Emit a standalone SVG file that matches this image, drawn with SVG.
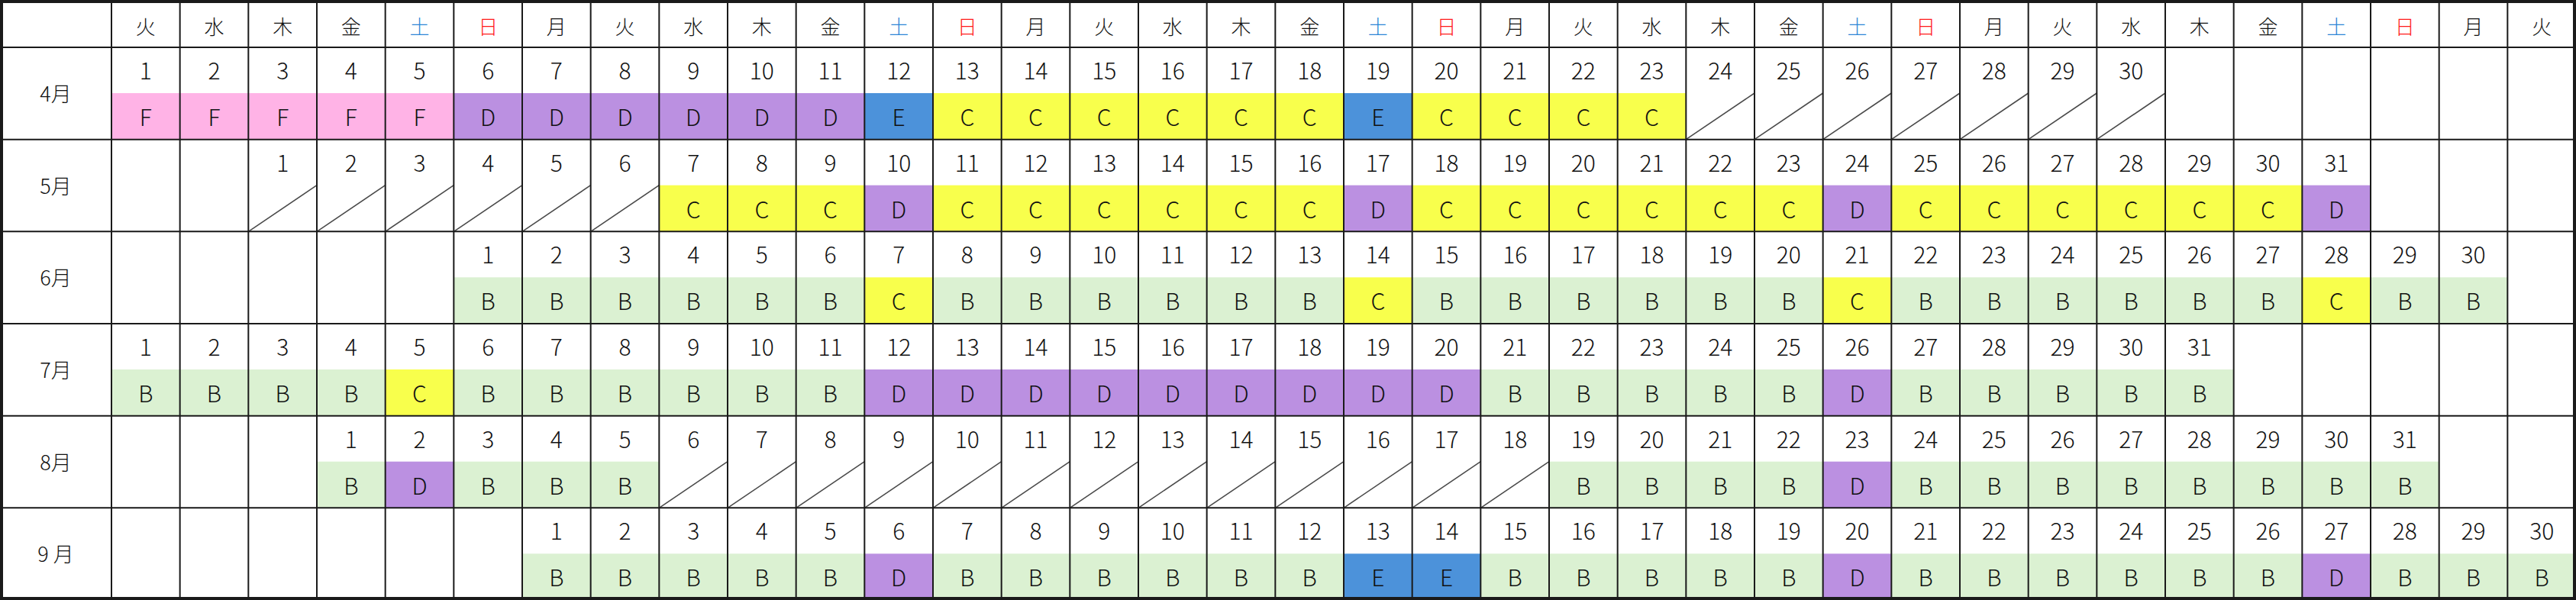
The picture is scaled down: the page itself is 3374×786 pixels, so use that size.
<svg xmlns="http://www.w3.org/2000/svg" width="3374" height="786" viewBox="0 0 3374 786">
<style>
.t{font-family:"Noto Sans CJK JP","DejaVu Sans",sans-serif;font-weight:300;text-anchor:middle;fill:#111}
.n{font-size:30px}.l{font-size:30px}.h{font-size:26px}.m{font-size:27px}
.sat{fill:#2C86D6}.sun{fill:#FF1A1A}
.grid{stroke:#1a1a1a;stroke-width:2;fill:none}
.sl{stroke:#4a4a4a;stroke-width:1.6;fill:none}
.F{fill:#FFB3E6}.D{fill:#BB90E1}.E{fill:#4C92DA}.C{fill:#F8FF4C}.B{fill:#DBF1D2}
</style>
<rect width="3374" height="786" fill="#fff"/>
<g id="header">
<text class="t h" y="45"><tspan x="190.8">火</tspan><tspan x="280.5">水</tspan><tspan x="370.2">木</tspan><tspan x="459.8">金</tspan><tspan x="549.5" class="sat">土</tspan><tspan x="639.2" class="sun">日</tspan><tspan x="728.8">月</tspan><tspan x="818.5">火</tspan><tspan x="908.2">水</tspan><tspan x="997.8">木</tspan><tspan x="1087.5">金</tspan><tspan x="1177.2" class="sat">土</tspan><tspan x="1266.8" class="sun">日</tspan><tspan x="1356.5">月</tspan><tspan x="1446.2">火</tspan><tspan x="1535.8">水</tspan><tspan x="1625.5">木</tspan><tspan x="1715.2">金</tspan><tspan x="1804.8" class="sat">土</tspan><tspan x="1894.5" class="sun">日</tspan><tspan x="1984.2">月</tspan><tspan x="2073.8">火</tspan><tspan x="2163.5">水</tspan><tspan x="2253.2">木</tspan><tspan x="2342.8">金</tspan><tspan x="2432.5" class="sat">土</tspan><tspan x="2522.2" class="sun">日</tspan><tspan x="2611.8">月</tspan><tspan x="2701.5">火</tspan><tspan x="2791.2">水</tspan><tspan x="2880.8">木</tspan><tspan x="2970.5">金</tspan><tspan x="3060.2" class="sat">土</tspan><tspan x="3149.8" class="sun">日</tspan><tspan x="3239.5">月</tspan><tspan x="3329.2">火</tspan></text>
</g>
<g id="apr">
<rect class="F" x="146" y="122" width="448.33" height="60.67"/>
<rect class="D" x="594.33" y="122" width="538" height="60.67"/>
<rect class="E" x="1132.33" y="122" width="89.67" height="60.67"/>
<rect class="C" x="1222" y="122" width="538" height="60.67"/>
<rect class="E" x="1760" y="122" width="89.67" height="60.67"/>
<rect class="C" x="1849.67" y="122" width="358.67" height="60.67"/>
<path class="sl" d="M2208.33 182.67L2298 122M2298 182.67L2387.67 122M2387.67 182.67L2477.33 122M2477.33 182.67L2567 122M2567 182.67L2656.67 122M2656.67 182.67L2746.33 122M2746.33 182.67L2836 122"/>
</g>
<g id="may">
<rect class="C" x="863.33" y="242.67" width="269" height="60.67"/>
<rect class="D" x="1132.33" y="242.67" width="89.67" height="60.67"/>
<rect class="C" x="1222" y="242.67" width="538" height="60.67"/>
<rect class="D" x="1760" y="242.67" width="89.67" height="60.67"/>
<rect class="C" x="1849.67" y="242.67" width="538" height="60.67"/>
<rect class="D" x="2387.67" y="242.67" width="89.67" height="60.67"/>
<rect class="C" x="2477.33" y="242.67" width="538" height="60.67"/>
<rect class="D" x="3015.33" y="242.67" width="89.67" height="60.67"/>
<path class="sl" d="M325.33 303.33L415 242.67M415 303.33L504.67 242.67M504.67 303.33L594.33 242.67M594.33 303.33L684 242.67M684 303.33L773.67 242.67M773.67 303.33L863.33 242.67"/>
</g>
<g id="jun">
<rect class="B" x="594.33" y="363.33" width="538" height="60.67"/>
<rect class="C" x="1132.33" y="363.33" width="89.67" height="60.67"/>
<rect class="B" x="1222" y="363.33" width="538" height="60.67"/>
<rect class="C" x="1760" y="363.33" width="89.67" height="60.67"/>
<rect class="B" x="1849.67" y="363.33" width="538" height="60.67"/>
<rect class="C" x="2387.67" y="363.33" width="89.67" height="60.67"/>
<rect class="B" x="2477.33" y="363.33" width="538" height="60.67"/>
<rect class="C" x="3015.33" y="363.33" width="89.67" height="60.67"/>
<rect class="B" x="3105" y="363.33" width="179.33" height="60.67"/>
</g>
<g id="jul">
<rect class="B" x="146" y="484" width="358.67" height="60.67"/>
<rect class="C" x="504.67" y="484" width="89.67" height="60.67"/>
<rect class="B" x="594.33" y="484" width="538" height="60.67"/>
<rect class="D" x="1132.33" y="484" width="807" height="60.67"/>
<rect class="B" x="1939.33" y="484" width="448.33" height="60.67"/>
<rect class="D" x="2387.67" y="484" width="89.67" height="60.67"/>
<rect class="B" x="2477.33" y="484" width="448.33" height="60.67"/>
</g>
<g id="aug">
<rect class="B" x="415" y="604.67" width="89.67" height="60.67"/>
<rect class="D" x="504.67" y="604.67" width="89.67" height="60.67"/>
<rect class="B" x="594.33" y="604.67" width="269" height="60.67"/>
<rect class="B" x="2029" y="604.67" width="358.67" height="60.67"/>
<rect class="D" x="2387.67" y="604.67" width="89.67" height="60.67"/>
<rect class="B" x="2477.33" y="604.67" width="717.33" height="60.67"/>
<path class="sl" d="M863.33 665.33L953 604.67M953 665.33L1042.67 604.67M1042.67 665.33L1132.33 604.67M1132.33 665.33L1222 604.67M1222 665.33L1311.67 604.67M1311.67 665.33L1401.33 604.67M1401.33 665.33L1491 604.67M1491 665.33L1580.67 604.67M1580.67 665.33L1670.33 604.67M1670.33 665.33L1760 604.67M1760 665.33L1849.67 604.67M1849.67 665.33L1939.33 604.67M1939.33 665.33L2029 604.67"/>
</g>
<g id="sep">
<rect class="B" x="684" y="725.33" width="448.33" height="60.67"/>
<rect class="D" x="1132.33" y="725.33" width="89.67" height="60.67"/>
<rect class="B" x="1222" y="725.33" width="538" height="60.67"/>
<rect class="E" x="1760" y="725.33" width="179.33" height="60.67"/>
<rect class="B" x="1939.33" y="725.33" width="448.33" height="60.67"/>
<rect class="D" x="2387.67" y="725.33" width="89.67" height="60.67"/>
<rect class="B" x="2477.33" y="725.33" width="538" height="60.67"/>
<rect class="D" x="3015.33" y="725.33" width="89.67" height="60.67"/>
<rect class="B" x="3105" y="725.33" width="269" height="60.67"/>
</g>
<g id="grid" class="grid">
<path d="M146 0V786M235.67 0V786M325.33 0V786M415 0V786M504.67 0V786M594.33 0V786M684 0V786M773.67 0V786M863.33 0V786M953 0V786M1042.67 0V786M1132.33 0V786M1222 0V786M1311.67 0V786M1401.33 0V786M1491 0V786M1580.67 0V786M1670.33 0V786M1760 0V786M1849.67 0V786M1939.33 0V786M2029 0V786M2118.67 0V786M2208.33 0V786M2298 0V786M2387.67 0V786M2477.33 0V786M2567 0V786M2656.67 0V786M2746.33 0V786M2836 0V786M2925.67 0V786M3015.33 0V786M3105 0V786M3194.67 0V786M3284.33 0V786"/>
<path d="M0 62H3374M0 182.67H3374M0 303.33H3374M0 424H3374M0 544.67H3374M0 665.33H3374"/>
<rect x="1.5" y="1.5" width="3371" height="783" stroke-width="5"/>
</g>
<g id="months">
<text class="t m" x="73" y="133">4月</text>
<text class="t m" x="73" y="253.67">5月</text>
<text class="t m" x="73" y="374.33">6月</text>
<text class="t m" x="73" y="495">7月</text>
<text class="t m" x="73" y="615.67">8月</text>
<text class="t m" x="73" y="736.33">9 月</text>
</g>
<g id="days">
<text class="t n" y="104"><tspan x="190.8">1</tspan><tspan x="280.5">2</tspan><tspan x="370.2">3</tspan><tspan x="459.8">4</tspan><tspan x="549.5">5</tspan><tspan x="639.2">6</tspan><tspan x="728.8">7</tspan><tspan x="818.5">8</tspan><tspan x="908.2">9</tspan><tspan x="997.8">10</tspan><tspan x="1087.5">11</tspan><tspan x="1177.2">12</tspan><tspan x="1266.8">13</tspan><tspan x="1356.5">14</tspan><tspan x="1446.2">15</tspan><tspan x="1535.8">16</tspan><tspan x="1625.5">17</tspan><tspan x="1715.2">18</tspan><tspan x="1804.8">19</tspan><tspan x="1894.5">20</tspan><tspan x="1984.2">21</tspan><tspan x="2073.8">22</tspan><tspan x="2163.5">23</tspan><tspan x="2253.2">24</tspan><tspan x="2342.8">25</tspan><tspan x="2432.5">26</tspan><tspan x="2522.2">27</tspan><tspan x="2611.8">28</tspan><tspan x="2701.5">29</tspan><tspan x="2791.2">30</tspan></text>
<text class="t n" y="224.67"><tspan x="370.2">1</tspan><tspan x="459.8">2</tspan><tspan x="549.5">3</tspan><tspan x="639.2">4</tspan><tspan x="728.8">5</tspan><tspan x="818.5">6</tspan><tspan x="908.2">7</tspan><tspan x="997.8">8</tspan><tspan x="1087.5">9</tspan><tspan x="1177.2">10</tspan><tspan x="1266.8">11</tspan><tspan x="1356.5">12</tspan><tspan x="1446.2">13</tspan><tspan x="1535.8">14</tspan><tspan x="1625.5">15</tspan><tspan x="1715.2">16</tspan><tspan x="1804.8">17</tspan><tspan x="1894.5">18</tspan><tspan x="1984.2">19</tspan><tspan x="2073.8">20</tspan><tspan x="2163.5">21</tspan><tspan x="2253.2">22</tspan><tspan x="2342.8">23</tspan><tspan x="2432.5">24</tspan><tspan x="2522.2">25</tspan><tspan x="2611.8">26</tspan><tspan x="2701.5">27</tspan><tspan x="2791.2">28</tspan><tspan x="2880.8">29</tspan><tspan x="2970.5">30</tspan><tspan x="3060.2">31</tspan></text>
<text class="t n" y="345.33"><tspan x="639.2">1</tspan><tspan x="728.8">2</tspan><tspan x="818.5">3</tspan><tspan x="908.2">4</tspan><tspan x="997.8">5</tspan><tspan x="1087.5">6</tspan><tspan x="1177.2">7</tspan><tspan x="1266.8">8</tspan><tspan x="1356.5">9</tspan><tspan x="1446.2">10</tspan><tspan x="1535.8">11</tspan><tspan x="1625.5">12</tspan><tspan x="1715.2">13</tspan><tspan x="1804.8">14</tspan><tspan x="1894.5">15</tspan><tspan x="1984.2">16</tspan><tspan x="2073.8">17</tspan><tspan x="2163.5">18</tspan><tspan x="2253.2">19</tspan><tspan x="2342.8">20</tspan><tspan x="2432.5">21</tspan><tspan x="2522.2">22</tspan><tspan x="2611.8">23</tspan><tspan x="2701.5">24</tspan><tspan x="2791.2">25</tspan><tspan x="2880.8">26</tspan><tspan x="2970.5">27</tspan><tspan x="3060.2">28</tspan><tspan x="3149.8">29</tspan><tspan x="3239.5">30</tspan></text>
<text class="t n" y="466"><tspan x="190.8">1</tspan><tspan x="280.5">2</tspan><tspan x="370.2">3</tspan><tspan x="459.8">4</tspan><tspan x="549.5">5</tspan><tspan x="639.2">6</tspan><tspan x="728.8">7</tspan><tspan x="818.5">8</tspan><tspan x="908.2">9</tspan><tspan x="997.8">10</tspan><tspan x="1087.5">11</tspan><tspan x="1177.2">12</tspan><tspan x="1266.8">13</tspan><tspan x="1356.5">14</tspan><tspan x="1446.2">15</tspan><tspan x="1535.8">16</tspan><tspan x="1625.5">17</tspan><tspan x="1715.2">18</tspan><tspan x="1804.8">19</tspan><tspan x="1894.5">20</tspan><tspan x="1984.2">21</tspan><tspan x="2073.8">22</tspan><tspan x="2163.5">23</tspan><tspan x="2253.2">24</tspan><tspan x="2342.8">25</tspan><tspan x="2432.5">26</tspan><tspan x="2522.2">27</tspan><tspan x="2611.8">28</tspan><tspan x="2701.5">29</tspan><tspan x="2791.2">30</tspan><tspan x="2880.8">31</tspan></text>
<text class="t n" y="586.67"><tspan x="459.8">1</tspan><tspan x="549.5">2</tspan><tspan x="639.2">3</tspan><tspan x="728.8">4</tspan><tspan x="818.5">5</tspan><tspan x="908.2">6</tspan><tspan x="997.8">7</tspan><tspan x="1087.5">8</tspan><tspan x="1177.2">9</tspan><tspan x="1266.8">10</tspan><tspan x="1356.5">11</tspan><tspan x="1446.2">12</tspan><tspan x="1535.8">13</tspan><tspan x="1625.5">14</tspan><tspan x="1715.2">15</tspan><tspan x="1804.8">16</tspan><tspan x="1894.5">17</tspan><tspan x="1984.2">18</tspan><tspan x="2073.8">19</tspan><tspan x="2163.5">20</tspan><tspan x="2253.2">21</tspan><tspan x="2342.8">22</tspan><tspan x="2432.5">23</tspan><tspan x="2522.2">24</tspan><tspan x="2611.8">25</tspan><tspan x="2701.5">26</tspan><tspan x="2791.2">27</tspan><tspan x="2880.8">28</tspan><tspan x="2970.5">29</tspan><tspan x="3060.2">30</tspan><tspan x="3149.8">31</tspan></text>
<text class="t n" y="707.33"><tspan x="728.8">1</tspan><tspan x="818.5">2</tspan><tspan x="908.2">3</tspan><tspan x="997.8">4</tspan><tspan x="1087.5">5</tspan><tspan x="1177.2">6</tspan><tspan x="1266.8">7</tspan><tspan x="1356.5">8</tspan><tspan x="1446.2">9</tspan><tspan x="1535.8">10</tspan><tspan x="1625.5">11</tspan><tspan x="1715.2">12</tspan><tspan x="1804.8">13</tspan><tspan x="1894.5">14</tspan><tspan x="1984.2">15</tspan><tspan x="2073.8">16</tspan><tspan x="2163.5">17</tspan><tspan x="2253.2">18</tspan><tspan x="2342.8">19</tspan><tspan x="2432.5">20</tspan><tspan x="2522.2">21</tspan><tspan x="2611.8">22</tspan><tspan x="2701.5">23</tspan><tspan x="2791.2">24</tspan><tspan x="2880.8">25</tspan><tspan x="2970.5">26</tspan><tspan x="3060.2">27</tspan><tspan x="3149.8">28</tspan><tspan x="3239.5">29</tspan><tspan x="3329.2">30</tspan></text>
</g>
<g id="letters">
<text class="t l" y="165" x="190.8 280.5 370.2 459.8 549.5 639.2 728.8 818.5 908.2 997.8 1087.5 1177.2 1266.8 1356.5 1446.2 1535.8 1625.5 1715.2 1804.8 1894.5 1984.2 2073.8 2163.5">FFFFFDDDDDDECCCCCCECCCC</text>
<text class="t l" y="285.67" x="908.2 997.8 1087.5 1177.2 1266.8 1356.5 1446.2 1535.8 1625.5 1715.2 1804.8 1894.5 1984.2 2073.8 2163.5 2253.2 2342.8 2432.5 2522.2 2611.8 2701.5 2791.2 2880.8 2970.5 3060.2">CCCDCCCCCCDCCCCCCDCCCCCCD</text>
<text class="t l" y="406.33" x="639.2 728.8 818.5 908.2 997.8 1087.5 1177.2 1266.8 1356.5 1446.2 1535.8 1625.5 1715.2 1804.8 1894.5 1984.2 2073.8 2163.5 2253.2 2342.8 2432.5 2522.2 2611.8 2701.5 2791.2 2880.8 2970.5 3060.2 3149.8 3239.5">BBBBBBCBBBBBBCBBBBBBCBBBBBBCBB</text>
<text class="t l" y="527" x="190.8 280.5 370.2 459.8 549.5 639.2 728.8 818.5 908.2 997.8 1087.5 1177.2 1266.8 1356.5 1446.2 1535.8 1625.5 1715.2 1804.8 1894.5 1984.2 2073.8 2163.5 2253.2 2342.8 2432.5 2522.2 2611.8 2701.5 2791.2 2880.8">BBBBCBBBBBBDDDDDDDDDBBBBBDBBBBB</text>
<text class="t l" y="647.67" x="459.8 549.5 639.2 728.8 818.5">BDBBB</text>
<text class="t l" y="647.67" x="2073.8 2163.5 2253.2 2342.8 2432.5 2522.2 2611.8 2701.5 2791.2 2880.8 2970.5 3060.2 3149.8">BBBBDBBBBBBBB</text>
<text class="t l" y="768.33" x="728.8 818.5 908.2 997.8 1087.5 1177.2 1266.8 1356.5 1446.2 1535.8 1625.5 1715.2 1804.8 1894.5 1984.2 2073.8 2163.5 2253.2 2342.8 2432.5 2522.2 2611.8 2701.5 2791.2 2880.8 2970.5 3060.2 3149.8 3239.5 3329.2">BBBBBDBBBBBBEEBBBBBDBBBBBBDBBB</text>
</g>
</svg>
